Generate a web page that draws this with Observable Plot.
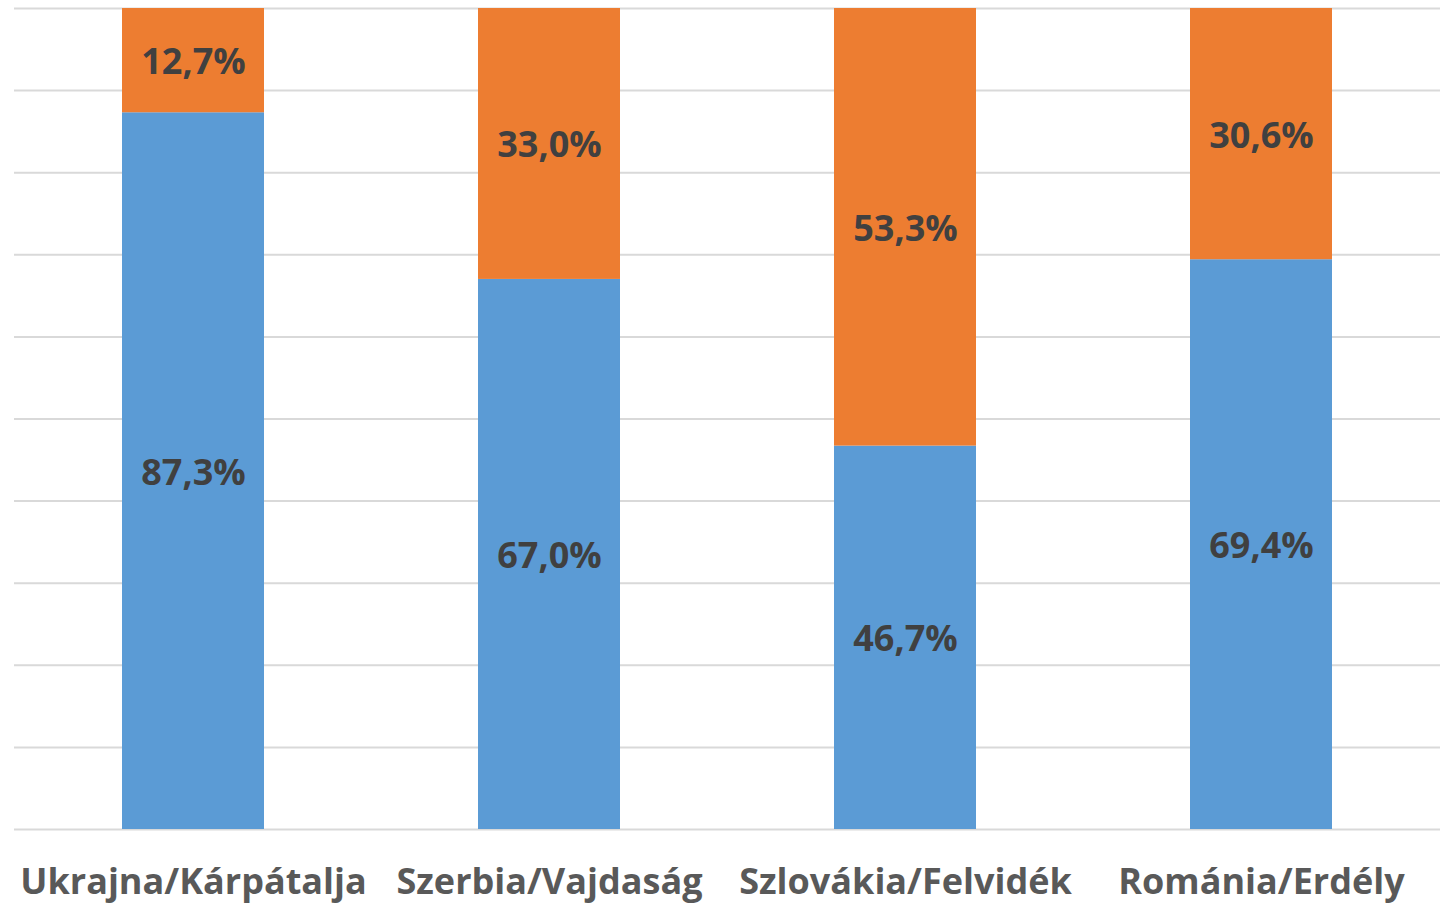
<!DOCTYPE html>
<html>
<head>
<meta charset="utf-8">
<script src="https://cdn.jsdelivr.net/npm/d3@7"></script>
<script src="https://cdn.jsdelivr.net/npm/@observablehq/plot@0.6"></script>
<style>
  html, body { margin: 0; padding: 0; background: #fff; }
  #chart svg { display: block; }
</style>
</head>
<body>
<div id="chart"></div>
<script>
const categories = ["Ukrajna/Kárpátalja", "Szerbia/Vajdaság", "Szlovákia/Felvidék", "Románia/Erdély"];
const seriesNames = ["A", "B"];
const blueValues = [87.3, 67.0, 46.7, 69.4];
const orangeValues = [12.7, 33.0, 53.3, 30.6];
const yTicks = [0, 10, 20, 30, 40, 50, 60, 70, 80, 90, 100];
const colors = ["#5B9BD5", "#ED7D31"];

const rows = [];
categories.forEach((c, i) => {
  rows.push({cat: c, series: seriesNames[0], value: blueValues[i]});
  rows.push({cat: c, series: seriesNames[1], value: orangeValues[i]});
});
const fmt = v => v.toFixed(1).replace(".", ",") + "%";

const chart = Plot.plot({
  width: 1445,
  height: 903,
  marginTop: 8,
  marginBottom: 74,
  marginLeft: 14,
  marginRight: 5,
  style: {fontFamily: "'Open Sans', sans-serif", background: "#fff"},
  x: {domain: categories, paddingInner: 0.6, paddingOuter: 0.3, label: null},
  y: {domain: [0, 100], label: null, axis: null},
  color: {domain: seriesNames, range: colors},
  marks: [
    Plot.ruleY(yTicks, {stroke: "#d9d9d9", strokeWidth: 2}),
    Plot.barY(rows, {x: "cat", y: "value", fill: "series", z: "series"}),
    Plot.text(rows, Plot.stackY({x: "cat", y: "value", z: "series", text: d => fmt(d.value), fill: "#404040", fontSize: 36, fontWeight: "bold", dy: 2})),
    Plot.axisX({tickSize: 0, tickPadding: 39, fontSize: 36, fontWeight: "bold", fill: "#595959", label: null})
  ]
});
document.getElementById("chart").appendChild(chart);
</script>
</body>
</html>
